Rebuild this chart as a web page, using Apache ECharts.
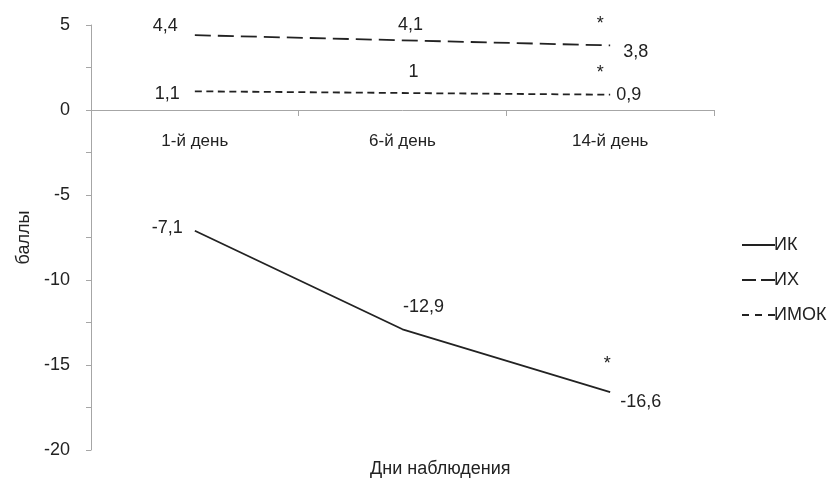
<!DOCTYPE html>
<html><head><meta charset="utf-8">
<script src="https://cdn.jsdelivr.net/npm/echarts@6/dist/echarts.min.js"></script>
<style>html,body{margin:0;padding:0;background:#fff}#c{width:835px;height:481px}</style>
</head><body><div id="c"></div>
<script>
const categories = ['1-й день', '6-й день', '14-й день'];
const ik = [-7.1, -12.9, -16.6];
const ih = [4.4, 4.1, 3.8];
const imok = [1.1, 1.0, 0.9];
const seriesNames = ['ИК', 'ИХ', 'ИМОК'];
const starMarks = ['*', '*', '*'];
const yTickLabels = [5, 0, -5, -10, -15, -20];

const FONT = '"Liberation Sans", Arial, sans-serif';
const TXT = '#222';
const AX = '#a6a6a6';
const fmt = v => String(v).replace('.', ',');

function lab(pos, off) {
  return { show: true, position: pos, offset: off, color: TXT, fontSize: 18, fontFamily: FONT,
           formatter: p => fmt(p.value) };
}
function mk(vals, specs) {
  return vals.map((v, i) => ({ value: v, label: lab(specs[i][0], specs[i][1]) }));
}

const icons = [
  'path://M0,0H33V2H0Z',
  'path://M0,0H14V2H0Z M19,0H33V2H19Z',
  'path://M0,0H7V2H0Z M13,0H20V2H13Z M26,0H33V2H26Z'
];

const chart = echarts.init(document.getElementById('c'), null, { renderer: 'canvas' });
const lineBase = { type: 'line', symbol: 'circle', symbolSize: 0, showSymbol: true,
  itemStyle: { color: TXT }, emphasis: { disabled: true } };
const option = {
  animation: false,
  backgroundColor: '#fff',
  grid: { left: 91, right: 121, top: 25, bottom: 31, containLabel: false },
  legend: {
    orient: 'vertical', left: 737, top: 231, itemWidth: 33, itemHeight: 14, itemGap: 17,
    textStyle: { color: TXT, fontSize: 18, fontFamily: FONT, padding: [0, 0, 0, -6] },
    data: seriesNames.map((n, i) => ({ name: n, icon: icons[i], itemStyle: { color: TXT } }))
  },
  xAxis: {
    type: 'category', data: categories, boundaryGap: true, position: 'bottom', offset: -340,
    axisLine: { onZero: false, lineStyle: { color: AX, width: 1 } },
    axisTick: { show: true, length: 6, lineStyle: { color: AX } },
    axisLabel: { color: TXT, fontSize: 17, fontFamily: FONT, margin: 23 },
    splitLine: { show: false }
  },
  yAxis: {
    type: 'value', min: -20, max: 5, interval: 2.5,
    name: 'баллы', nameLocation: 'middle', nameGap: 58, nameRotate: 90,
    nameTextStyle: { color: TXT, fontSize: 18, fontFamily: FONT },
    axisLine: { show: true, lineStyle: { color: AX, width: 1 } },
    axisTick: { show: true, length: 5, lineStyle: { color: AX } },
    axisLabel: { color: TXT, fontSize: 18, fontFamily: FONT, margin: 21,
                 formatter: v => (yTickLabels.indexOf(v) >= 0 ? String(v) : '') },
    splitLine: { show: false }
  },
  series: [
    Object.assign({}, lineBase, { name: seriesNames[0],
      data: mk(ik, [['left', [-7, -3]], ['top', [21, -8]], ['right', [5, 10]]]),
      lineStyle: { color: TXT, width: 1.8, type: 'solid' } }),
    Object.assign({}, lineBase, { name: seriesNames[1],
      data: mk(ih, [['left', [-12, -9]], ['top', [8, -1]], ['right', [8, 7]]]),
      lineStyle: { color: TXT, width: 1.8, type: [16, 7] } }),
    Object.assign({}, lineBase, { name: seriesNames[2],
      data: mk(imok, [['left', [-10, 3]], ['top', [11, -7]], ['right', [1, 0]]]),
      lineStyle: { color: TXT, width: 1.8, type: [7, 4.5] } })
  ]
};
chart.setOption(option);

const starOffsets = [[-3, -32], [-10, -25], [-10, -26]];
const starData = [ik, ih, imok];
const g = starData.map((arr, s) => {
  const p = chart.convertToPixel({ gridIndex: 0 }, [2, arr[2]]);
  return { type: 'text', x: p[0] + starOffsets[s][0], y: p[1] + starOffsets[s][1] + 4,
    style: { text: starMarks[s], fill: TXT, fontSize: 18, fontFamily: FONT, align: 'center', verticalAlign: 'middle' } };
});
g.push({ type: 'text', left: 370, top: 460,
  style: { text: 'Дни наблюдения', fill: TXT, fontSize: 18, fontFamily: FONT } });
chart.setOption({ graphic: g });
</script></body></html>
